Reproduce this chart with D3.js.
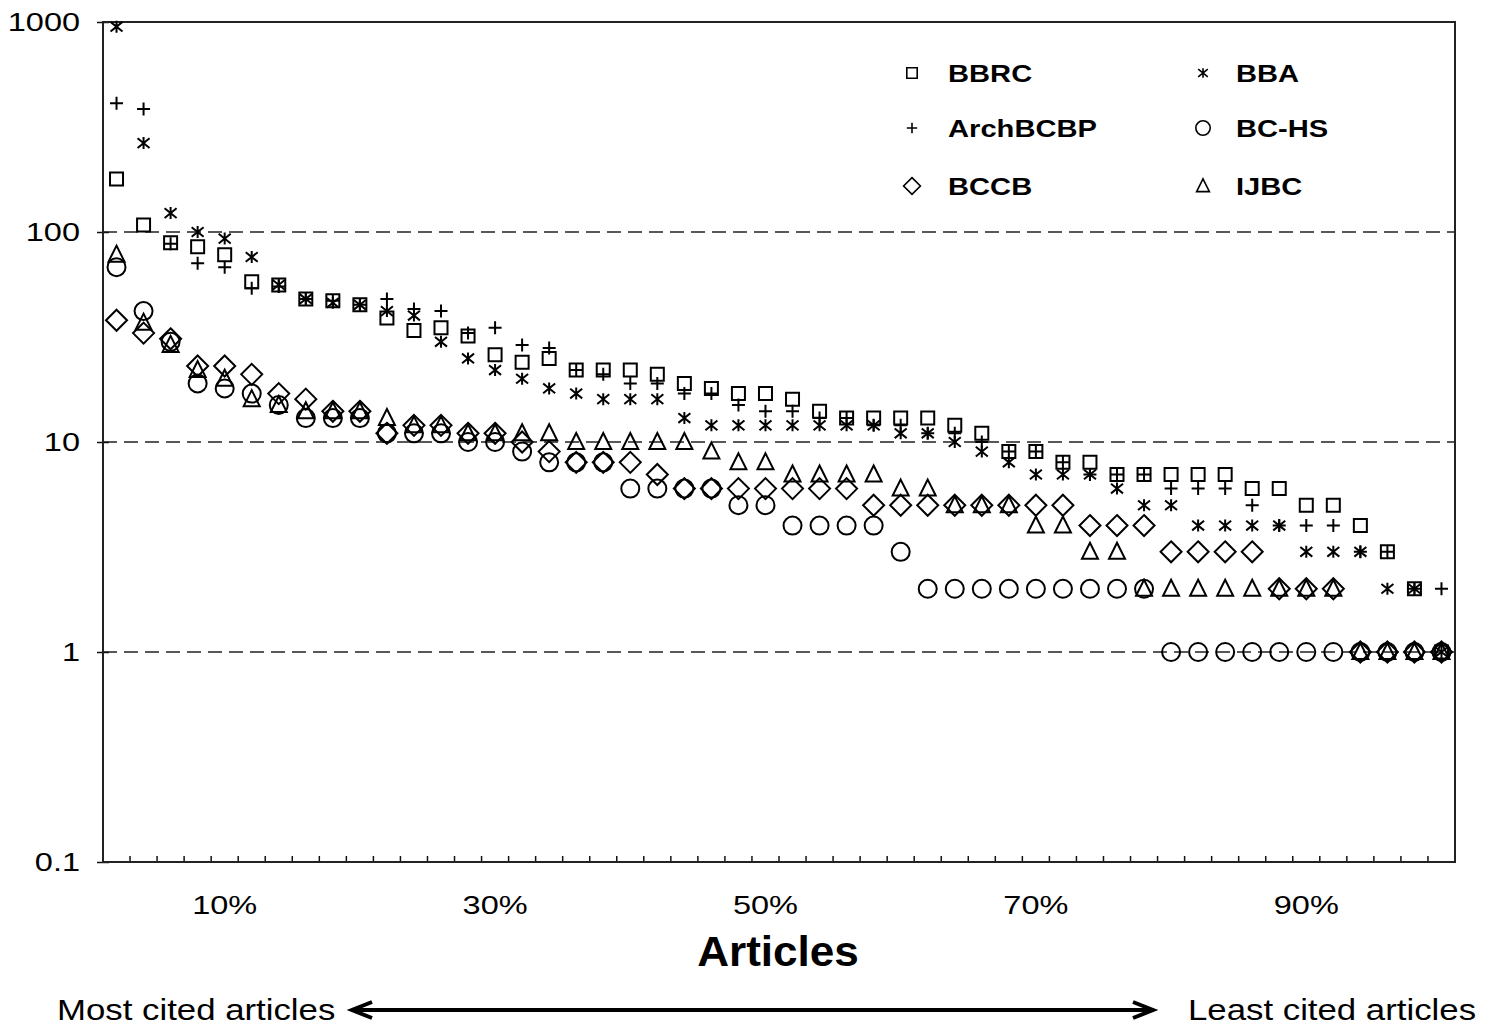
<!DOCTYPE html>
<html>
<head>
<meta charset="utf-8">
<script src="https://cdn.jsdelivr.net/npm/d3@7"></script>
<style>
  body { margin: 0; background: #fff; }
  text { font-family: "Liberation Sans", Arial, sans-serif; fill: #000; }
</style>
</head>
<body>
<div id="chart"></div>
<script>
// share of articles (x categories)
const categories = ["2%","4%","6%","8%","10%","12%","14%","16%","18%","20%",
  "22%","24%","26%","28%","30%","32%","34%","36%","38%","40%",
  "42%","44%","46%","48%","50%","52%","54%","56%","58%","60%",
  "62%","64%","66%","68%","70%","72%","74%","76%","78%","80%",
  "82%","84%","86%","88%","90%","92%","94%","96%","98%","100%"]
const tickLabels = ["10%","30%","50%","70%","90%"]
const yTicks = [0.1, 1, 10, 100, 1000]

// citations per journal
const bbrc = [179,108,89,85,78,58,56,48,47,45,39,34,35,32,26,24,25,22,22,22,
  21,19,18,17,17,16,14,13,13,13,13,12,11,9,9,8,8,7,7,7,
  7,7,6,6,5,5,4,3,2,1]
const archBCBP = [410,385,88,71,68,54,55,48,47,45,48,43,42,33,35,29,28,22,21,19,
  19,17,17,15,14,14,13,13,12,12,11,11,10,9,9,8,7,7,7,6,
  6,6,5,4,4,4,3,3,2,2]
const bccb = [38,33,31,23,23,21,17,16,14,14,11,12,12,11,11,10,9,8,8,8,
  7,6,6,6,6,6,6,6,5,5,5,5,5,5,5,5,4,4,4,3,
  3,3,3,2,2,2,1,1,1,1]
const bba = [950,265,123,100,93,76,56,48,46,45,42,40,30,25,22,20,18,17,16,16,
  16,13,12,12,12,12,12,12,12,11,11,10,9,8,7,7,7,6,5,5,
  4,4,4,4,3,3,3,2,2,1]
const bcHs = [68,42,30,19,18,17,15,13,13,13,11,11,11,10,10,9,8,8,8,6,
  6,6,6,5,5,4,4,4,4,3,2,2,2,2,2,2,2,2,2,1,
  1,1,1,1,1,1,1,1,1,1]
const ijbc = [78,37,29,22,20,16,15,14,14,14,13,12,12,11,11,11,11,10,10,10,
  10,10,9,8,8,7,7,7,7,6,6,5,5,5,4,4,3,3,2,2,
  2,2,2,2,2,2,1,1,1,1]

const series = [
  { name: "BBRC", values: bbrc, shape: "square" },
  { name: "ArchBCBP", values: archBCBP, shape: "plus" },
  { name: "BCCB", values: bccb, shape: "diamond" },
  { name: "BBA", values: bba, shape: "star" },
  { name: "BC-HS", values: bcHs, shape: "circle" },
  { name: "IJBC", values: ijbc, shape: "triangle" },
]

const width = 1494
const height = 1026
const plotLeft = 103, plotRight = 1455, plotTop = 22, plotBottom = 862

const svg = d3.select('#chart')
  .append('svg')
    .attr('width', width)
    .attr('height', height)

const xScale = d3.scaleBand()
  .domain(categories)
  .range([plotLeft, plotRight])

const yScale = d3.scaleLog()
  .domain([0.1, 1000])
  .range([plotBottom, plotTop])

// marker paths, centred on 0,0
function markerPath(shape, k) {
  const s = 6.5 * k
  if (shape === 'square') return `M${-s},${-s}H${s}V${s}H${-s}Z`
  if (shape === 'plus') return `M${-s},0H${s}M0,${-s}V${s}`
  if (shape === 'star') {
    const a = 6 * k
    return `M${-a},${-a * 0.8}L${a},${a * 0.8}M${a},${-a * 0.8}L${-a},${a * 0.8}M0,${-a}V${a}`
  }
  if (shape === 'diamond') { const d = 10.5 * k; return `M0,${-d}L${d},0L0,${d}L${-d},0Z` }
  if (shape === 'triangle') return `M0,${-9 * k}L${8 * k},${7 * k}L${-8 * k},${7 * k}Z`
  return null
}

function drawMarker(g, shape, k) {
  if (shape === 'circle') {
    return g.append('circle').attr('r', 9 * k)
      .attr('fill', 'none').attr('stroke', '#000').attr('stroke-width', 2)
  }
  return g.append('path').attr('d', markerPath(shape, k))
    .attr('fill', 'none').attr('stroke', '#000').attr('stroke-width', 2)
}

// stretched text like the original
function label(text, x, y, size, sx, anchor, weight) {
  return svg.append('text')
    .attr('transform', `translate(${x},${y}) scale(${sx},1)`)
    .attr('font-size', size)
    .attr('font-weight', weight || 'normal')
    .attr('text-anchor', anchor)
    .text(text)
}

// dashed gridlines
svg.append('g')
  .selectAll('line')
  .data([1, 10, 100])
  .enter()
  .append('line')
    .attr('x1', plotLeft)
    .attr('x2', plotRight)
    .attr('y1', d => yScale(d))
    .attr('y2', d => yScale(d))
    .attr('stroke', '#222')
    .attr('stroke-width', 1.6)
    .attr('stroke-dasharray', '14,7')

// y axis
const yAxis = svg.append('g')
  .attr('transform', 'translate(' + plotLeft + ',0)')
  .call(d3.axisLeft(yScale)
    .tickValues(yTicks)
    .tickFormat(d => d < 1 ? '0.1' : String(d))
    .tickSize(6))
yAxis.select('.domain').remove()
yAxis.selectAll('line').attr('x1', 6).attr('x2', -6).attr('stroke', '#111').attr('stroke-width', 1.5)
yAxis.selectAll('text')
  .attr('font-size', 26)
  .attr('x', -18.4)
  .attr('dy', '0.34em')
  .attr('transform', 'scale(1.25,1)')
  .attr('font-family', '"Liberation Sans", Arial, sans-serif')

// x axis labels
const xAxis = svg.append('g')
  .attr('transform', 'translate(0,' + plotBottom + ')')
  .call(d3.axisBottom(xScale)
    .tickValues(tickLabels)
    .tickSize(0))
xAxis.select('.domain').remove()
xAxis.selectAll('text')
  .attr('font-size', 26)
  .attr('y', 52)
  .attr('dy', 0)
  .attr('font-family', '"Liberation Sans", Arial, sans-serif')
  .attr('transform', 'scale(1.25,1)')

// small ticks between categories
svg.append('g')
  .selectAll('line')
  .data(categories.concat(['end']))
  .enter()
  .append('line')
    .attr('x1', d => d === 'end' ? plotRight : xScale(d))
    .attr('x2', d => d === 'end' ? plotRight : xScale(d))
    .attr('y1', plotBottom)
    .attr('y2', plotBottom - 6)
    .attr('stroke', '#111')
    .attr('stroke-width', 1.5)

// plot frame
svg.append('rect')
  .attr('x', plotLeft)
  .attr('y', plotTop)
  .attr('width', plotRight - plotLeft)
  .attr('height', plotBottom - plotTop)
  .attr('fill', 'none')
  .attr('stroke', '#222')
  .attr('stroke-width', 2)

// points
series.forEach(s => {
  const g = svg.append('g')
  s.values.forEach((v, i) => {
    const c = categories[i]
    const m = g.append('g')
      .attr('transform', 'translate(' + (xScale(c) + xScale.bandwidth() / 2) + ',' + yScale(v) + ')')
    drawMarker(m, s.shape, 1)
  })
})

// legend
const legendItems = [
  { name: "BBRC", shape: "square", col: 0, row: 0 },
  { name: "BBA", shape: "star", col: 1, row: 0 },
  { name: "ArchBCBP", shape: "plus", col: 0, row: 1 },
  { name: "BC-HS", shape: "circle", col: 1, row: 1 },
  { name: "BCCB", shape: "diamond", col: 0, row: 2 },
  { name: "IJBC", shape: "triangle", col: 1, row: 2 },
]
const colX = [912, 1203]
const rowY = [73, 128, 186]
legendItems.forEach(d => {
  const m = svg.append('g')
    .attr('transform', 'translate(' + colX[d.col] + ',' + rowY[d.row] + ')')
  const el = drawMarker(m, d.shape, 0.8)
  el.attr('stroke-width', 1.6)
  label(d.name, colX[d.col] + (d.col ? 33 : 36), rowY[d.row] + 8.5, 23.5, 1.24, 'start', 'bold')
})

// axis title and direction note
label('Articles', 778, 966, 42, 1.05, 'middle', 'bold')
label('Most cited articles', 57, 1020, 30, 1.16, 'start')
label('Least cited articles', 1188, 1020, 30, 1.16, 'start')

svg.append('line')
  .attr('x1', 354).attr('x2', 1151)
  .attr('y1', 1010).attr('y2', 1010)
  .attr('stroke', '#000').attr('stroke-width', 4)
svg.append('path')
  .attr('d', 'M372,1002L352,1010L372,1018')
  .attr('fill', 'none').attr('stroke', '#000').attr('stroke-width', 4)
svg.append('path')
  .attr('d', 'M1133,1002L1153,1010L1133,1018')
  .attr('fill', 'none').attr('stroke', '#000').attr('stroke-width', 4)
</script>
</body>
</html>
